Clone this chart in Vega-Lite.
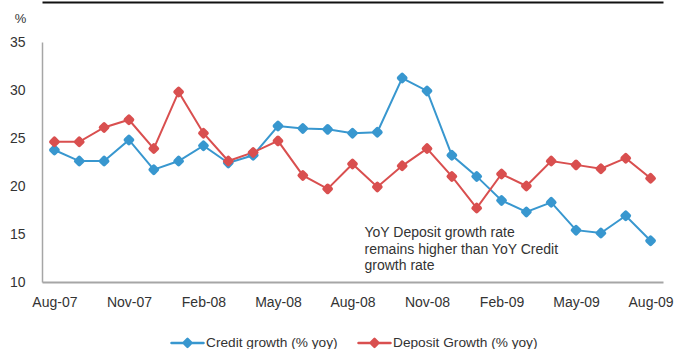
{
  "$schema": "https://vega.github.io/schema/vega-lite/v6.json",
  "width": 621,
  "height": 240,
  "autosize": "none",
  "padding": {"left": 42, "top": 42, "right": 11, "bottom": 67},
  "background": "white",
  "config": {
    "view": {"stroke": null},
    "font": "Liberation Sans",
    "axis": {"labelFont": "Liberation Sans", "labelColor": "#333333", "grid": false, "ticks": false}
  },
  "datasets": {
    "growth": [
      {"month": "Aug-07", "series": "Credit growth (% yoy)", "value": 23.75},
      {"month": "Sep-07", "series": "Credit growth (% yoy)", "value": 22.6},
      {"month": "Oct-07", "series": "Credit growth (% yoy)", "value": 22.6},
      {"month": "Nov-07", "series": "Credit growth (% yoy)", "value": 24.8},
      {"month": "Dec-07", "series": "Credit growth (% yoy)", "value": 21.7},
      {"month": "Jan-08", "series": "Credit growth (% yoy)", "value": 22.6},
      {"month": "Feb-08", "series": "Credit growth (% yoy)", "value": 24.2},
      {"month": "Mar-08", "series": "Credit growth (% yoy)", "value": 22.4},
      {"month": "Apr-08", "series": "Credit growth (% yoy)", "value": 23.2},
      {"month": "May-08", "series": "Credit growth (% yoy)", "value": 26.25},
      {"month": "Jun-08", "series": "Credit growth (% yoy)", "value": 26.0},
      {"month": "Jul-08", "series": "Credit growth (% yoy)", "value": 25.9},
      {"month": "Aug-08", "series": "Credit growth (% yoy)", "value": 25.5},
      {"month": "Sep-08", "series": "Credit growth (% yoy)", "value": 25.6},
      {"month": "Oct-08", "series": "Credit growth (% yoy)", "value": 31.25},
      {"month": "Nov-08", "series": "Credit growth (% yoy)", "value": 29.9},
      {"month": "Dec-08", "series": "Credit growth (% yoy)", "value": 23.2},
      {"month": "Jan-09", "series": "Credit growth (% yoy)", "value": 21.0},
      {"month": "Feb-09", "series": "Credit growth (% yoy)", "value": 18.5},
      {"month": "Mar-09", "series": "Credit growth (% yoy)", "value": 17.3},
      {"month": "Apr-09", "series": "Credit growth (% yoy)", "value": 18.3},
      {"month": "May-09", "series": "Credit growth (% yoy)", "value": 15.4},
      {"month": "Jun-09", "series": "Credit growth (% yoy)", "value": 15.1},
      {"month": "Jul-09", "series": "Credit growth (% yoy)", "value": 16.9},
      {"month": "Aug-09", "series": "Credit growth (% yoy)", "value": 14.3},
      {"month": "Aug-07", "series": "Deposit Growth (% yoy)", "value": 24.6},
      {"month": "Sep-07", "series": "Deposit Growth (% yoy)", "value": 24.6},
      {"month": "Oct-07", "series": "Deposit Growth (% yoy)", "value": 26.1},
      {"month": "Nov-07", "series": "Deposit Growth (% yoy)", "value": 26.9},
      {"month": "Dec-07", "series": "Deposit Growth (% yoy)", "value": 23.9},
      {"month": "Jan-08", "series": "Deposit Growth (% yoy)", "value": 29.8},
      {"month": "Feb-08", "series": "Deposit Growth (% yoy)", "value": 25.5},
      {"month": "Mar-08", "series": "Deposit Growth (% yoy)", "value": 22.6},
      {"month": "Apr-08", "series": "Deposit Growth (% yoy)", "value": 23.5},
      {"month": "May-08", "series": "Deposit Growth (% yoy)", "value": 24.7},
      {"month": "Jun-08", "series": "Deposit Growth (% yoy)", "value": 21.1},
      {"month": "Jul-08", "series": "Deposit Growth (% yoy)", "value": 19.7},
      {"month": "Aug-08", "series": "Deposit Growth (% yoy)", "value": 22.3},
      {"month": "Sep-08", "series": "Deposit Growth (% yoy)", "value": 19.9},
      {"month": "Oct-08", "series": "Deposit Growth (% yoy)", "value": 22.1},
      {"month": "Nov-08", "series": "Deposit Growth (% yoy)", "value": 23.9},
      {"month": "Dec-08", "series": "Deposit Growth (% yoy)", "value": 21.0},
      {"month": "Jan-09", "series": "Deposit Growth (% yoy)", "value": 17.7},
      {"month": "Feb-09", "series": "Deposit Growth (% yoy)", "value": 21.25},
      {"month": "Mar-09", "series": "Deposit Growth (% yoy)", "value": 20.0},
      {"month": "Apr-09", "series": "Deposit Growth (% yoy)", "value": 22.6},
      {"month": "May-09", "series": "Deposit Growth (% yoy)", "value": 22.2},
      {"month": "Jun-09", "series": "Deposit Growth (% yoy)", "value": 21.8},
      {"month": "Jul-09", "series": "Deposit Growth (% yoy)", "value": 22.9},
      {"month": "Aug-09", "series": "Deposit Growth (% yoy)", "value": 20.8}
    ],
    "note": [
      {"month": "Aug-08", "level": 15.8, "text": "YoY Deposit growth rate\nremains higher than YoY Credit\ngrowth rate"}
    ]
  },
  "resolve": {"axis": {"x": "independent"}},
  "layer": [
    {
      "data": {"name": "growth"},
      "mark": {"type": "line", "strokeWidth": 2},
      "encoding": {
        "x": {
          "field": "month", "type": "ordinal",
          "scale": {
            "type": "point", "padding": 0.5,
            "domain": ["Aug-07", "Sep-07", "Oct-07", "Nov-07", "Dec-07", "Jan-08", "Feb-08", "Mar-08", "Apr-08", "May-08", "Jun-08", "Jul-08", "Aug-08", "Sep-08", "Oct-08", "Nov-08", "Dec-08", "Jan-09", "Feb-09", "Mar-09", "Apr-09", "May-09", "Jun-09", "Jul-09", "Aug-09"]
          },
          "axis": {
            "title": null, "orient": "bottom",
            "values": ["Aug-07", "Nov-07", "Feb-08", "May-08", "Aug-08", "Nov-08", "Feb-09", "May-09", "Aug-09"],
            "labelAngle": 0, "labelFontSize": 14, "labelPadding": 13,
            "domainColor": "#a6a6a6", "domainWidth": 2
          }
        },
        "y": {
          "field": "value", "type": "quantitative",
          "scale": {"domain": [10, 35], "nice": false, "zero": false},
          "axis": {
            "values": [10, 15, 20, 25, 30, 35],
            "title": "%", "titleAngle": 0, "titleFontSize": 13, "titleFontWeight": "normal",
            "titleColor": "#333333", "titleAlign": "center", "titleBaseline": "middle",
            "titleX": -22, "titleY": -24,
            "labelFontSize": 14, "labelPadding": 17,
            "domainColor": "#a6a6a6", "domainWidth": 1.5
          }
        },
        "color": {
          "field": "series", "type": "nominal",
          "scale": {"domain": ["Credit growth (% yoy)", "Deposit Growth (% yoy)"], "range": ["#3897cf", "#d94f4f"]},
          "legend": {
            "title": null, "orient": "none", "direction": "horizontal",
            "legendX": 128, "legendY": 283, "padding": 0,
            "symbolType": "M-1,0L-0.25,0L0,-0.25L0.25,0L1,0L0.25,0L0,0.25L-0.25,0Z",
            "symbolSize": 1024, "symbolStrokeWidth": 2.5,
            "labelFontSize": 13.7, "labelColor": "#333333", "labelOffset": 1, "labelLimit": 300,
            "columnPadding": 19,
            "encode": {
              "symbols": {
                "update": {
                  "fill": {"scale": "color", "field": "value"},
                  "stroke": {"scale": "color", "field": "value"},
                  "strokeJoin": {"value": "round"},
                  "opacity": {"value": 1}
                }
              }
            }
          }
        }
      }
    },
    {
      "data": {"name": "growth"},
      "mark": {"type": "point", "shape": "diamond", "filled": true, "size": 45, "opacity": 1, "strokeWidth": 4, "strokeJoin": "round"},
      "encoding": {
        "x": {"field": "month", "type": "ordinal", "axis": null},
        "y": {"field": "value", "type": "quantitative"},
        "color": {"field": "series", "type": "nominal"},
        "stroke": {"field": "series", "type": "nominal", "legend": null, "scale": {"domain": ["Credit growth (% yoy)", "Deposit Growth (% yoy)"], "range": ["#3897cf", "#d94f4f"]}}
      }
    },
    {
      "data": {"name": "note"},
      "mark": {"type": "text", "align": "left", "baseline": "top", "dx": 12, "fontSize": 14, "color": "#333333", "lineHeight": 16.5, "lineBreak": "\n", "font": "Liberation Sans"},
      "encoding": {
        "x": {
          "field": "month", "type": "ordinal",
          "axis": {"orient": "top", "offset": 40, "labels": false, "title": null, "domainColor": "#111111", "domainWidth": 2}
        },
        "y": {"field": "level", "type": "quantitative"},
        "text": {"field": "text"}
      }
    }
  ]
}
